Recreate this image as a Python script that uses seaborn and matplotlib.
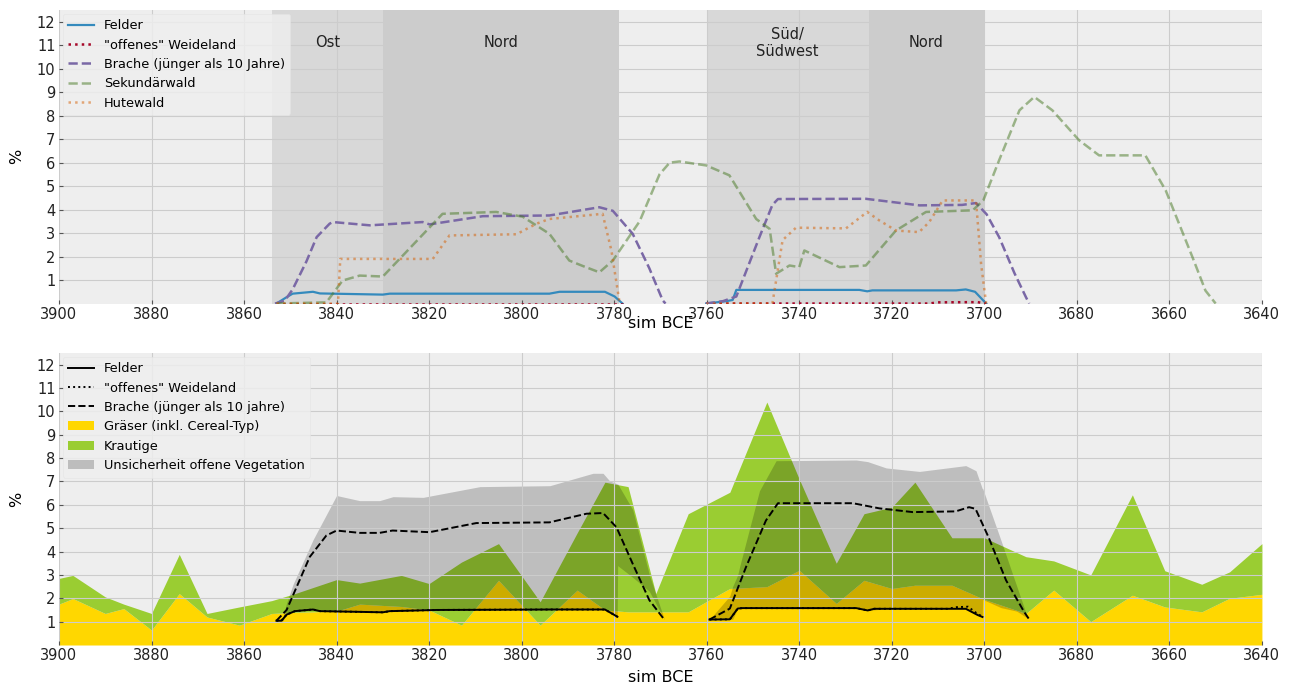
import numpy as np
import pandas as pd
import matplotlib
matplotlib.use("Agg")
import matplotlib.pyplot as plt
import seaborn as sns
from matplotlib.lines import Line2D
from matplotlib.patches import Patch

# ---------------- data: top panel ----------------
span_starts = [3854, 3830, 3760, 3725]
span_ends = [3830, 3779, 3725, 3700]
span_labels = ["Ost", "Nord", "Süd/\nSüdwest", "Nord"]
span_alphas = [0.20, 0.30, 0.20, 0.30]

felder_a_years = [3853, 3850.8, 3849.5, 3845.1, 3843.6, 3830, 3828.5, 3794, 3791.8, 3782, 3779.9, 3778.2]
felder_a_vals = [0, 0.27, 0.42, 0.50, 0.43, 0.38, 0.42, 0.42, 0.50, 0.50, 0.30, 0]
felder_b_years = [3760.1, 3755.8, 3754.4, 3753.6, 3727, 3725.3, 3724.2, 3706.1, 3704, 3702, 3699.6]
felder_b_vals = [0, 0.10, 0.15, 0.58, 0.58, 0.52, 0.56, 0.56, 0.60, 0.50, 0]

weide_a_years = [3853, 3778.2]
weide_a_vals = [0, 0]
weide_b_years = [3760.1, 3712, 3710, 3701.5, 3699.6]
weide_b_vals = [0, 0, 0.05, 0.06, 0]

brache_a_years = [3853.3, 3851.2, 3849.5, 3846.5, 3844.3, 3841.5, 3840.8, 3832.8, 3821.4, 3819.9, 3808.4,
                  3794, 3783.2, 3780.3, 3776, 3772.4, 3769.5, 3768.9]
brache_a_vals = [0, 0.12, 0.60, 1.80, 2.83, 3.40, 3.47, 3.33, 3.47, 3.37, 3.72,
                 3.75, 4.10, 3.95, 2.97, 1.50, 0.13, 0]
brache_b_years = [3760.2, 3756.5, 3753.6, 3748.6, 3745.8, 3744.6, 3725.6, 3714, 3704.8, 3701.8,
                  3699.5, 3696.8, 3693.5, 3691, 3690.3]
brache_b_vals = [0, 0.10, 0.30, 2.83, 4.20, 4.45, 4.46, 4.18, 4.20, 4.28,
                 3.80, 2.83, 1.30, 0.27, 0]

sek_years = [3853, 3842.2, 3838.7, 3835, 3830, 3817.1, 3805.5, 3799.8, 3794, 3789.7, 3786.8, 3783.2,
             3780.3, 3774.5, 3770.2, 3768, 3765.9, 3760.1, 3755.1, 3749.3, 3746.4, 3745, 3742.1, 3740,
             3738.9, 3731.3, 3725.6, 3719.1, 3712.6, 3702.5, 3700.2, 3696.8, 3692.4, 3689.2, 3685.3,
             3679.5, 3675.2, 3665.2, 3660.8, 3655, 3652.2, 3650]
sek_vals = [0, 0.05, 0.98, 1.19, 1.15, 3.82, 3.90, 3.70, 2.97, 1.83, 1.60, 1.33,
            1.83, 3.50, 5.50, 6.00, 6.05, 5.88, 5.46, 3.60, 3.18, 1.27, 1.62, 1.55,
            2.26, 1.55, 1.62, 3.11, 3.90, 3.97, 4.40, 6.10, 8.23, 8.80, 8.23,
            6.95, 6.31, 6.31, 4.82, 1.97, 0.55, 0]

hute_a_years = [3853, 3839.7, 3839.2, 3819.2, 3815.6, 3801.1, 3796.8, 3794, 3782.5, 3780.6, 3778.8]
hute_a_vals = [0, 0, 1.90, 1.90, 2.90, 2.95, 3.40, 3.60, 3.82, 2.26, 0]
hute_b_years = [3760.1, 3745.8, 3743.6, 3740.7, 3729.9, 3725.3, 3722.7, 3719.1, 3714.1, 3711.9,
                3709, 3701.8, 3700.7, 3699.6]
hute_b_vals = [0, 0, 2.70, 3.23, 3.20, 3.90, 3.54, 3.11, 3.04, 3.47, 4.39, 4.39, 1.69, 0]

# ---------------- data: bottom panel ----------------
pollen_years = [3900, 3897, 3890, 3886, 3880, 3874, 3868, 3861, 3854, 3849, 3840, 3835, 3826, 3820,
                3813, 3805, 3796, 3788, 3782, 3777, 3771, 3764, 3755, 3747, 3740, 3732, 3726, 3720,
                3715, 3707, 3700, 3691, 3685, 3677, 3668, 3661, 3653, 3647, 3640]
graeser = [1.75, 1.99, 1.35, 1.56, 0.64, 2.20, 1.20, 0.85, 1.35, 1.40, 1.45, 1.75, 1.65, 1.50,
           0.85, 2.77, 0.85, 2.35, 1.50, 1.42, 1.42, 1.42, 2.42, 2.50, 3.20, 1.78, 2.77, 2.42,
           2.56, 2.56, 1.95, 1.35, 2.35, 1.00, 2.13, 1.63, 1.42, 2.00, 2.17]
krautige = [1.10, 0.99, 0.71, 0.19, 0.71, 1.68, 0.15, 0.78, 0.55, 0.80, 1.35, 0.90, 1.33, 1.13,
            2.70, 1.57, 1.00, 2.45, 5.47, 5.36, 0.78, 4.20, 4.12, 7.90, 3.90, 1.72, 2.85, 3.48,
            4.41, 2.03, 2.64, 2.43, 1.25, 2.00, 4.30, 1.55, 1.18, 1.13, 2.17]

bf_a_years = [3853, 3851.9, 3850.8, 3849, 3845.1, 3843.6, 3830, 3828.5, 3818.4, 3793.3, 3782, 3779.3]
bf_a_vals = [1.04, 1.04, 1.30, 1.45, 1.52, 1.45, 1.40, 1.45, 1.50, 1.52, 1.52, 1.21]
bf_b_years = [3759.4, 3755, 3753.3, 3752.3, 3727.7, 3725.2, 3723.8, 3704, 3701.4, 3700.4]
bf_b_vals = [1.09, 1.10, 1.56, 1.58, 1.58, 1.48, 1.55, 1.55, 1.28, 1.20]

bw_a_years = [3853, 3851.9, 3850.8, 3849, 3845.1, 3843.6, 3830, 3828.5, 3818.4, 3793.3, 3782, 3779.3]
bw_a_vals = [1.04, 1.04, 1.30, 1.45, 1.52, 1.45, 1.40, 1.45, 1.50, 1.52, 1.52, 1.21]
bw_b_years = [3759.4, 3755, 3753.3, 3752.3, 3727.7, 3725.2, 3723.8, 3708, 3706, 3703.5, 3701.4, 3700.4]
bw_b_vals = [1.09, 1.10, 1.56, 1.58, 1.58, 1.48, 1.55, 1.55, 1.62, 1.64, 1.32, 1.22]

bb_a_years = [3853, 3850.8, 3845.8, 3842.2, 3840, 3835, 3830.7, 3827.9, 3819.9, 3809.8, 3794, 3786,
              3782.4, 3779.5, 3776, 3772.4, 3769.1]
bb_a_vals = [1.04, 1.50, 3.77, 4.69, 4.90, 4.80, 4.80, 4.90, 4.83, 5.22, 5.25, 5.62,
             5.65, 5.04, 3.48, 1.92, 1.07]
bb_b_years = [3759.4, 3755, 3751.5, 3747.2, 3744.6, 3728.4, 3722.7, 3715.5, 3706.2, 3703.3, 3701.9,
              3699.1, 3695.3, 3691.4, 3690.3]
bb_b_vals = [1.09, 1.56, 3.34, 5.33, 6.07, 6.07, 5.85, 5.69, 5.72, 5.90, 5.83,
             4.62, 2.77, 1.42, 1.10]

unc_a_years = [3853, 3851.6, 3850.8, 3849.4, 3845.1, 3840, 3835, 3830.7, 3827.8, 3821.3, 3809, 3793.9,
               3784.6, 3782.4, 3781, 3779.35, 3779.25, 3776, 3772.4, 3769.1]
unc_a_low = [1.04, 1.04, 1.30, 1.45, 1.52, 1.45, 1.43, 1.40, 1.45, 1.48, 1.50, 1.52,
             1.52, 1.52, 1.45, 1.21, 3.40, 2.90, 2.30, 1.07]
unc_a_high = [1.04, 1.20, 1.80, 2.60, 4.50, 6.40, 6.18, 6.18, 6.35, 6.32, 6.78, 6.82,
              7.35, 7.35, 7.03, 6.90, 6.90, 5.80, 3.00, 1.07]
unc_b_years = [3759.4, 3755, 3754.4, 3753.3, 3752.9, 3748.6, 3745, 3727.7, 3725.2, 3721.2, 3714,
               3704, 3701.8, 3700.45, 3700.35, 3696.4, 3693, 3690.6]
unc_b_low = [1.09, 1.10, 1.10, 1.56, 1.57, 1.58, 1.58, 1.58, 1.48, 1.55, 1.55,
             1.55, 1.32, 1.20, 1.95, 1.60, 1.45, 1.14]
unc_b_high = [1.09, 2.10, 2.50, 3.00, 3.34, 6.60, 7.89, 7.92, 7.85, 7.58, 7.43,
              7.68, 7.46, 6.70, 6.70, 4.48, 2.52, 1.14]

x_ticks = list(range(3900, 3639, -20))
y_ticks = list(range(1, 13))

# ---------------- style ----------------
plt.style.use("bmh")
plt.rcParams.update({
    "font.family": ["DejaVu Sans"],
    "axes.facecolor": "#eeeeee",
    "grid.color": "#cccccc",
    "grid.linestyle": "-",
    "grid.linewidth": 0.8,
    "xtick.labelsize": 10.5,
    "ytick.labelsize": 10.5,
    "axes.labelsize": 11.5,
})

C_BLUE, C_RED, C_PURPLE, C_GREEN, C_ORANGE = "#348ABD", "#A60628", "#7A68A6", "#467821", "#D55E00"

fig = plt.figure(figsize=(12.96, 6.9), dpi=100)
ax1 = fig.add_axes([0.0455, 0.5601, 0.9282, 0.4254])
ax2 = fig.add_axes([0.0455, 0.0652, 0.9282, 0.4232])


def seg_df(segments):
    frames = [pd.DataFrame({"year": yrs, "value": vals, "seg": i})
              for i, (yrs, vals) in enumerate(segments)]
    return pd.concat(frames, ignore_index=True)


def draw(ax, segments, **kw):
    sns.lineplot(data=seg_df(segments), x="year", y="value", units="seg", estimator=None,
                 sort=False, ax=ax, legend=False, **kw)


# ---------------- top panel ----------------
for s, e, lab, a in zip(span_starts, span_ends, span_labels, span_alphas):
    ax1.axvspan(s, e, color="gray", alpha=a, lw=0, zorder=0.5)
    ax1.text((s + e) / 2, 11.1, lab, ha="center", va="center", fontsize=10.5, color="#222222")

top_styles = [
    ([(felder_a_years, felder_a_vals), (felder_b_years, felder_b_vals)],
     dict(color=C_BLUE, linestyle="-", lw=1.6, alpha=1.0), "Felder"),
    ([(weide_a_years, weide_a_vals), (weide_b_years, weide_b_vals)],
     dict(color=C_RED, linestyle=":", lw=1.8, alpha=1.0), "\"offenes\" Weideland"),
    ([(brache_a_years, brache_a_vals), (brache_b_years, brache_b_vals)],
     dict(color=C_PURPLE, linestyle="--", lw=1.8, alpha=1.0), "Brache (jünger als 10 Jahre)"),
    ([(sek_years, sek_vals)],
     dict(color=C_GREEN, linestyle="--", lw=1.8, alpha=0.5), "Sekundärwald"),
    ([(hute_a_years, hute_a_vals), (hute_b_years, hute_b_vals)],
     dict(color=C_ORANGE, linestyle=":", lw=1.8, alpha=0.5), "Hutewald"),
]
top_handles = []
for segs, st, lab in top_styles:
    draw(ax1, segs, zorder=3, **st)
    top_handles.append(Line2D([], [], label=lab, **st))

ax1.legend(handles=top_handles, loc="upper left", fontsize=9.3, frameon=True,
           facecolor="#eeeeee", edgecolor="#e4e4e4", framealpha=0.85,
           borderaxespad=0.3, handlelength=2.0)

# ---------------- bottom panel ----------------
g_arr = np.array(graeser)
k_arr = np.array(krautige)
ax2.fill_between(pollen_years, 0, g_arr, color="#FFD700", lw=0, zorder=1)
ax2.fill_between(pollen_years, g_arr, g_arr + k_arr, color="#9ACD32", lw=0, zorder=1)
ax2.fill_between(unc_a_years, unc_a_low, unc_a_high, color="black", alpha=0.2, lw=0, zorder=1.5)
ax2.fill_between(unc_b_years, unc_b_low, unc_b_high, color="black", alpha=0.2, lw=0, zorder=1.5)

draw(ax2, [(bw_a_years, bw_a_vals), (bw_b_years, bw_b_vals)], color="black", linestyle=":", lw=1.4, zorder=3)
draw(ax2, [(bb_a_years, bb_a_vals), (bb_b_years, bb_b_vals)], color="black", linestyle="--", lw=1.4, zorder=3)
draw(ax2, [(bf_a_years, bf_a_vals), (bf_b_years, bf_b_vals)], color="black", linestyle="-", lw=1.4, zorder=3)

bottom_handles = [
    Line2D([], [], color="black", linestyle="-", lw=1.4, label="Felder"),
    Line2D([], [], color="black", linestyle=":", lw=1.4, label="\"offenes\" Weideland"),
    Line2D([], [], color="black", linestyle="--", lw=1.4, label="Brache (jünger als 10 jahre)"),
    Patch(facecolor="#FFD700", edgecolor="none", label="Gräser (inkl. Cereal-Typ)"),
    Patch(facecolor="#9ACD32", edgecolor="none", label="Krautige"),
    Patch(facecolor="#bdbdbd", edgecolor="none", label="Unsicherheit offene Vegetation"),
]
ax2.legend(handles=bottom_handles, loc="upper left", fontsize=9.3, frameon=True,
           facecolor="#eeeeee", edgecolor="#e4e4e4", framealpha=0.85,
           borderaxespad=0.3, handlelength=2.0)

for ax in (ax1, ax2):
    ax.set_xlim(x_ticks[0], x_ticks[-1])
    ax.set_ylim(0, 12.5)
    ax.set_xticks(x_ticks)
    ax.set_yticks(y_ticks)
    ax.set_ylabel("%", labelpad=9)
    ax.grid(True, zorder=2)
    ax.set_axisbelow(False)
    for sp in ax.spines.values():
        sp.set_visible(False)
    ax.tick_params(axis="both", length=3, pad=2.5, color="#555555", labelcolor="#222222")

ax1.set_xlabel("sim BCE", labelpad=-4)
ax2.set_xlabel("sim BCE", labelpad=5)

fig.savefig("out.png", dpi=100)
